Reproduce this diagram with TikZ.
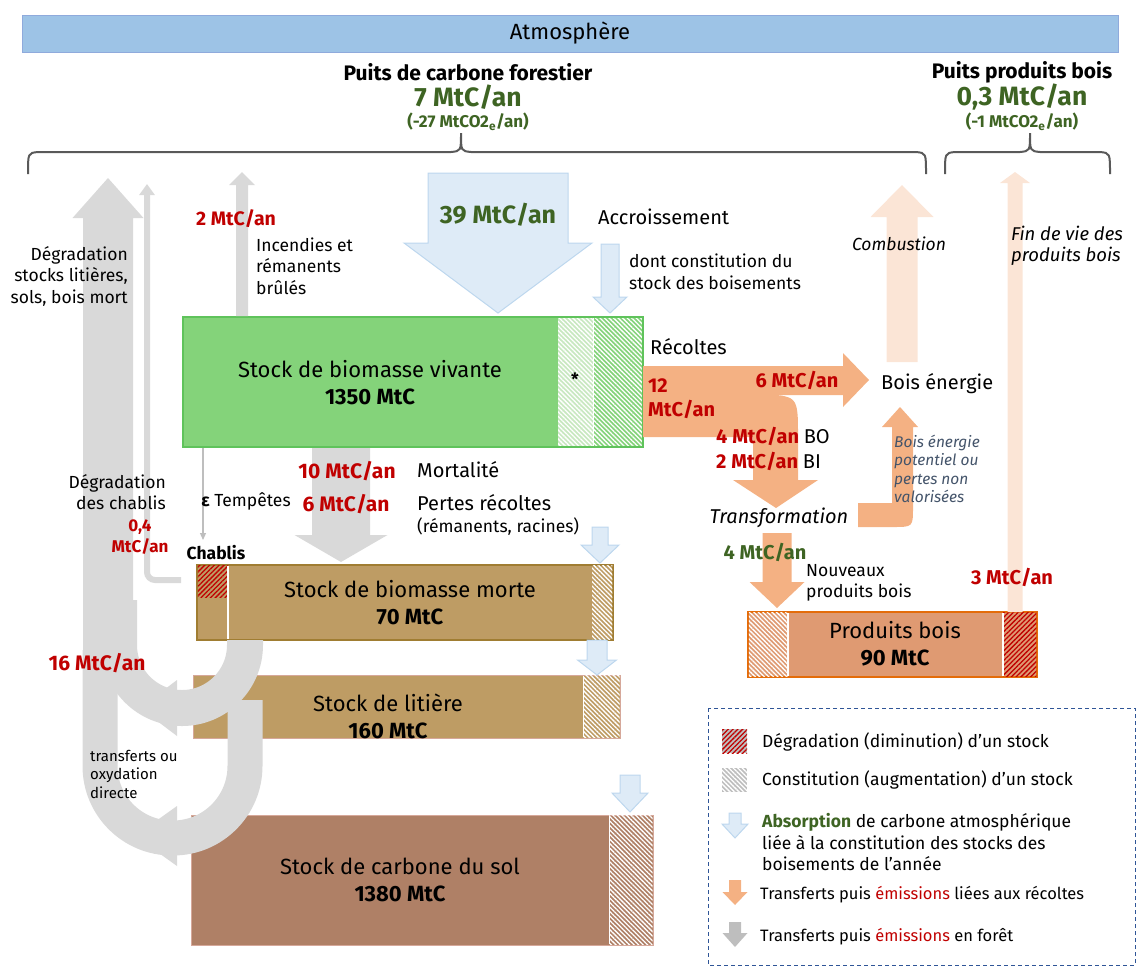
\documentclass[tikz,border=0pt]{standalone}
\usepackage{fontspec}
\setmainfont{Fira Sans}
\usetikzlibrary{arrows.meta,positioning,patterns.meta}

\definecolor{atmblue}{RGB}{157,195,230}
\definecolor{atmline}{RGB}{143,170,220}
\definecolor{skyfill}{RGB}{222,235,247}
\definecolor{skyline}{RGB}{189,215,238}
\definecolor{leaf}{RGB}{132,211,122}
\definecolor{leafpale}{RGB}{200,232,192}
\definecolor{leafline}{RGB}{95,195,91}
\definecolor{deadfill}{RGB}{190,156,100}
\definecolor{deadline}{RGB}{160,125,50}
\definecolor{soilfill}{RGB}{175,128,102}
\definecolor{soilline}{RGB}{214,168,154}
\definecolor{woodfill}{RGB}{223,154,114}
\definecolor{woodline}{RGB}{228,108,10}
\definecolor{harvest}{RGB}{244,177,131}
\definecolor{burnfill}{RGB}{251,229,214}
\definecolor{fog}{RGB}{217,217,217}
\definecolor{fogdark}{RGB}{190,190,190}
\definecolor{emis}{RGB}{192,0,0}
\definecolor{sink}{RGB}{62,100,35}
\definecolor{slate}{RGB}{68,84,106}
\definecolor{bracegrey}{RGB}{89,89,89}
\definecolor{legline}{RGB}{47,85,151}

\newcommand{\flowarrow}[7]{\path[#1] ({#2-#3},#5) -- ({#2+#3},#5) -- ({#2+#3},#6) -- ({#2+#4},#6) -- (#2,#7) -- ({#2-#4},#6) -- ({#2-#3},#6) -- cycle;}

\begin{document}
\begin{tikzpicture}[
    x=1pt, y=-1pt,
    lbl/.style={inner sep=0pt, font=\fontsize{17.5}{21.5}\selectfont},
    lblm/.style={inner sep=0pt, font=\fontsize{20}{23}\selectfont},
    note/.style={inner sep=0pt, font=\fontsize{15}{18.5}\selectfont},
    legtxt/.style={inner sep=0pt, anchor=west, font=\fontsize{17.5}{21.5}\selectfont},
    stocktxt/.style={inner sep=0pt, align=center, font=\fontsize{22}{27}\selectfont},
    emisnum/.style={inner sep=0pt, text=emis, font=\fontsize{20}{24}\selectfont\bfseries},
    sinknum/.style={inner sep=0pt, text=sink, font=\fontsize{20}{24}\selectfont\bfseries},
    newhatch/.style={preaction={fill=#1}, pattern={Lines[angle=-45,distance=3.2pt,line width=1.3pt]}, pattern color=white},
    losshatch/.style={preaction={fill=#1}, pattern={Lines[angle=45,distance=3.4pt,line width=1.3pt]}, pattern color=emis},
    skyarrow/.style={fill=skyfill, draw=skyline, line width=1pt},
    fogarrow/.style={fill=fog},
    legfog/.style={fill=fogdark},
    cutarrow/.style={fill=harvest},
    burnarrow/.style={fill=burnfill},
    pbrace/.style={draw=bracegrey, line width=2pt}
]
\useasboundingbox (0,0) rectangle (1137,967);

\node[draw=atmline, fill=atmblue, line width=1pt, minimum width=1096pt, minimum height=37pt, font=\fontsize{22}{24}\selectfont] (atm) at (570,33.5) {Atmosphère};

\node[inner sep=0pt, font=\fontsize{21}{24}\selectfont\bfseries] (forsink) at (468,72) {Puits de carbone forestier};
\node[sinknum, font=\fontsize{26.5}{30}\selectfont\bfseries] (forval) at (468,97) {7 MtC/an};
\node[sinknum, font=\fontsize{17}{20}\selectfont\bfseries] (forco2) at (468,122) {(-27 MtCO2\textsubscript{e}/an)};
\node[inner sep=0pt, font=\fontsize{21}{24}\selectfont\bfseries] (woodsink) at (1022,72) {Puits produits bois};
\node[sinknum, font=\fontsize{26.5}{30}\selectfont\bfseries] (woodval) at (1022,97) {0,3 MtC/an};
\node[sinknum, font=\fontsize{17}{20}\selectfont\bfseries] (woodco2) at (1022,122) {(-1 MtCO2\textsubscript{e}/an)};

\draw[pbrace] (28,174) .. controls (28,153) .. (38,152) -- (451,152) .. controls (461,151) .. (461,133) .. controls (461,151) .. (471,152) -- (916,152) .. controls (926,153) .. (926,174);
\draw[pbrace] (945,174) .. controls (945,153) .. (955,152) -- (1020,152) .. controls (1030,151) .. (1030,133) .. controls (1030,151) .. (1040,152) -- (1100,152) .. controls (1110,153) .. (1110,174);

\path[fill=leaf] (183,317) rectangle (558,447);
\path[newhatch=leafpale] (558,317) rectangle (593,447);
\path[newhatch=leaf] (593,317) rectangle (643,447);
\draw[white, line width=1pt] (593,318) -- (593,446);
\draw[leafline, line width=1.2pt] (183,317) rectangle (643,447);
\node[stocktxt] (viv) at (370,383) {Stock de biomasse vivante\\\textbf{1350 MtC}};
\node[inner sep=0pt, font=\fontsize{17}{17}\selectfont\bfseries] (star) at (575,379) {*};

\path[fill=deadfill, draw=deadline, line width=1.5pt] (197,565) rectangle (613,640);
\path[losshatch=deadfill] (197.75,565.75) rectangle (228,597);
\path[newhatch=deadfill] (592,565.75) rectangle (612.25,639.25);
\draw[white, line width=1.5pt] (228,566) -- (228,639);
\node[stocktxt] (morte) at (410,603) {Stock de biomasse morte\\\textbf{70 MtC}};

\path[fill=deadfill, draw=soilline, line width=1pt] (193,675) rectangle (620,738);
\path[newhatch=deadfill] (583,675.5) rectangle (619.5,737.5);
\draw[white, line width=1pt] (583,676) -- (583,737);
\node[stocktxt] (lit) at (388,716) {Stock de litière\\\textbf{160 MtC}};

\path[fill=soilfill, draw=soilline, line width=1pt] (191,815) rectangle (653,945);
\path[newhatch=soilfill] (609,815.5) rectangle (652.5,944.5);
\draw[white, line width=1pt] (609,816) -- (609,944);
\node[stocktxt] (sol) at (400,880) {Stock de carbone du sol\\\textbf{1380 MtC}};

\path[fill=woodfill, draw=woodline, line width=1.5pt] (748,612) rectangle (1037,677);
\path[newhatch=woodfill] (748.75,612.75) rectangle (788,676.25);
\path[losshatch=woodfill] (1003,612.75) rectangle (1036.25,676.25);
\draw[white, line width=1.5pt] (788,613) -- (788,676) (1003,613) -- (1003,676);
\node[stocktxt] (prod) at (895,644) {Produits bois\\\textbf{90 MtC}};

\flowarrow{fogarrow}{108}{25}{35.5}{655}{218}{178}
\draw[fog, line width=36pt, rounded corners=63pt] (119,600) -- (119,708) -- (245,708) -- (245,640);
\draw[fog, line width=35pt, rounded corners=72pt] (100,650) -- (100,838) -- (245,838) -- (245,700);
\fill[fog] (177,680) -- (177,736) -- (140,708) -- cycle;
\fill[fog] (177,806) -- (177,866) -- (135,836) -- cycle;
\draw[fog, line width=6pt, rounded corners=8pt, -{Triangle[width=15pt,length=11pt]}] (181,580) -- (147,580) -- (147,184);
\flowarrow{fogarrow}{242}{6}{13}{316}{185}{172}
\draw[fogdark, line width=1.2pt, -{Triangle[width=6pt,length=7pt]}] (203,448) -- (203,540);
\flowarrow{fogarrow}{341}{29}{46.5}{448}{535}{562}

\flowarrow{skyarrow}{498}{70}{94}{173}{243}{313}
\flowarrow{skyarrow}{610}{9}{17}{244}{297}{313}
\flowarrow{skyarrow}{600}{8}{19}{527}{545}{563}
\flowarrow{skyarrow}{597}{10}{19.5}{640}{660}{675}
\flowarrow{skyarrow}{630}{10}{18}{775}{793}{812}

\flowarrow{burnarrow}{902}{15.5}{31.5}{362}{217}{185}
\flowarrow{burnarrow}{1015}{7.5}{15}{612}{183}{172}

\fill[harvest] (643,366) -- (843,366) -- (843,353) -- (869,380) -- (843,407) -- (843,395) -- (757,395) .. controls (798,395) .. (798,436) -- (798,480) -- (818,480) -- (776,508) -- (733,480) -- (753,480) -- (753,437) -- (643,437) -- cycle;
\flowarrow{cutarrow}{777}{14.5}{27.5}{533}{582}{608}
\fill[harvest] (858,503) -- (892,503) -- (892,427) -- (882,427) -- (900,407) -- (918,427) -- (913,427) -- (913,507) .. controls (913,527) .. (893,527) -- (858,527) -- cycle;

\node[sinknum, font=\fontsize{25}{30}\selectfont\bfseries] (gross) at (498,215) {39 MtC/an};
\node[lblm, anchor=west] (accr) at (598,217) {Accroissement};
\node[lbl, anchor=west, align=left] (newstock) at (629,272) {dont constitution du\\stock des boisements};
\node[emisnum, font=\fontsize{19.5}{22}\selectfont\bfseries] (fireval) at (236,219) {2 MtC/an};
\node[lbl, anchor=west, align=left] (fire) at (256,266) {Incendies et\\rémanents\\brûlés};
\node[lbl, anchor=east, align=right] (decay) at (128,276) {Dégradation\\stocks litières,\\sols, bois mort};
\node[lblm, anchor=west] (harv) at (650,347) {Récoltes};
\node[emisnum, anchor=west, align=left] (harvval) at (648,399) {12\\MtC/an};
\node[emisnum] (energyval) at (797,380) {6 MtC/an};
\node[emisnum, anchor=west] (boval) at (716,436) {4 MtC/an \textcolor{black}{\mdseries BO}};
\node[emisnum, anchor=west] (bival) at (716,461) {2 MtC/an \textcolor{black}{\mdseries BI}};
\node[lblm, anchor=west] (energy) at (881,384) {Bois énergie};
\node[lbl, font=\fontsize{17.5}{20}\selectfont\itshape] (burn) at (899,244) {Combustion};
\node[lbl, anchor=west, align=left, font=\fontsize{18.5}{21}\selectfont\itshape] (eol) at (1011,246) {Fin de vie des\\produits bois};
\node[note, anchor=west, align=left, text=slate, font=\fontsize{15.5}{18.5}\selectfont\itshape] (waste) at (894,469) {Bois énergie\\potentiel ou\\pertes non\\valorisées};
\node[lblm, font=\fontsize{20}{23}\selectfont\itshape] (transf) at (779,518) {Transformation};
\node[sinknum] (newval) at (765,552) {4 MtC/an};
\node[lbl, anchor=west, align=left] (newprod) at (806,583) {Nouveaux\\produits bois};
\node[emisnum] (eolval) at (1012,577) {3 MtC/an};

\node[emisnum, font=\fontsize{21}{24}\selectfont\bfseries] (mortval) at (347,471) {10 MtC/an};
\node[lblm, anchor=west] (mort) at (417,470) {Mortalité};
\node[emisnum, font=\fontsize{21}{24}\selectfont\bfseries] (slashval) at (346,504) {6 MtC/an};
\node[lblm, anchor=west] (slash) at (417,503) {Pertes récoltes};
\node[lbl, anchor=west] (slashsub) at (417,527) {(rémanents, racines)};
\node[lbl] (storm) at (246,501) {\textbf{ε} Tempêtes};
\node[lbl, font=\fontsize{17.5}{20}\selectfont\bfseries] (chab) at (216,553) {Chablis};
\node[lbl, anchor=east, align=right] (chabdec) at (166,492) {Dégradation\\des chablis};
\node[emisnum, align=center, font=\fontsize{17}{21}\selectfont\bfseries] (chabval) at (140,537) {0,4\\MtC/an};
\node[emisnum, font=\fontsize{21}{24}\selectfont\bfseries] (soilval) at (97,663) {16 MtC/an};
\node[note, anchor=west, align=left] (oxid) at (90,774) {transferts ou\\oxydation\\directe};

\draw[legline, line width=1pt, dash pattern=on 4pt off 3pt] (708,708) rectangle (1135,965);
\path[losshatch=fogdark] (722,729) rectangle (747,753);
\path[newhatch=fogdark] (722,768) rectangle (747,792);
\flowarrow{skyarrow}{735}{6}{13}{813}{824}{838}
\flowarrow{cutarrow}{735}{6}{12.5}{880}{892}{905}
\flowarrow{legfog}{735}{6}{12.5}{922}{933}{947}
\node[legtxt] (lg1) at (762,742) {Dégradation (diminution) d’un stock};
\node[legtxt] (lg2) at (762,780) {Constitution (augmentation) d’un stock};
\node[legtxt, align=left] (lg3) at (762,842) {\textcolor{sink}{\textbf{Absorption}} de carbone atmosphérique\\liée à la constitution des stocks des\\boisements de l’année};
\node[legtxt, font=\fontsize{16.5}{20}\selectfont] (lg4) at (760,895) {Transferts puis \textcolor{emis}{émissions} liées aux récoltes};
\node[legtxt, font=\fontsize{16.5}{20}\selectfont] (lg5) at (760,937) {Transferts puis \textcolor{emis}{émissions} en forêt};
\end{tikzpicture}
\end{document}
